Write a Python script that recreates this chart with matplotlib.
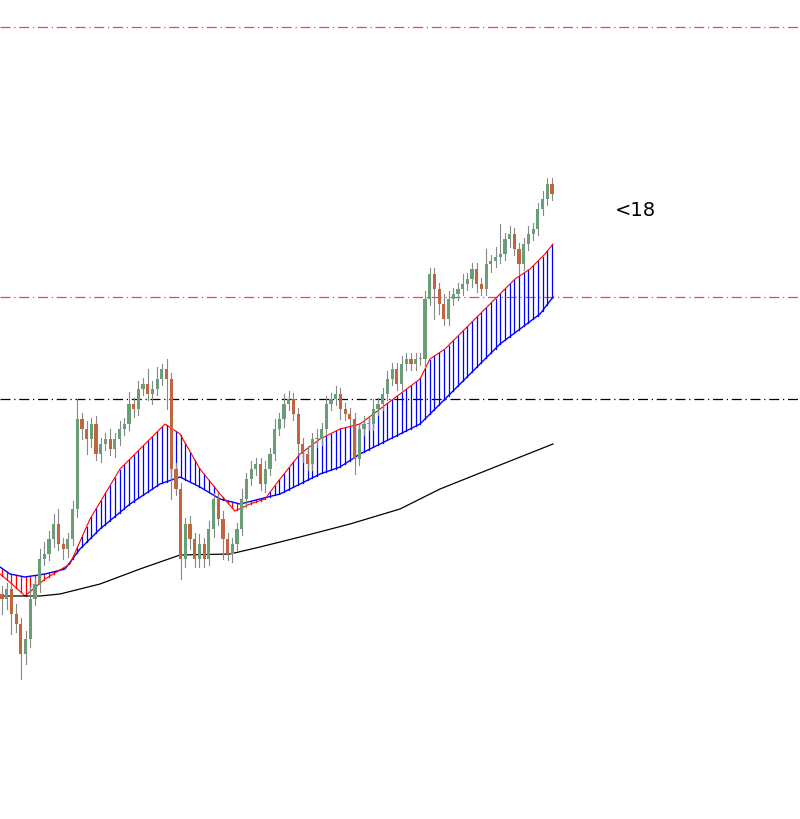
import numpy as np
import matplotlib
matplotlib.use("Agg")
import matplotlib.pyplot as plt

# closes (price units = 820 - pixel row)
close_px = [600, 590, 615, 625, 655, 640, 600, 585, 560, 555,
            540, 525, 545, 550, 540, 510, 420, 430, 440, 425,
            455, 445, 440, 450, 440, 430, 425, 405, 410, 390,
            385, 395, 390, 380, 370, 380, 470, 490, 560, 525,
            540, 560, 545, 560, 530, 500, 520, 540, 555, 545,
            530, 500, 480, 470, 465, 485, 470, 455, 430, 420,
            405, 400, 415, 445, 455, 465, 440, 440, 430, 405,
            400, 395, 410, 415, 420, 460, 430, 425, 425, 410,
            405, 395, 380, 370, 385, 365, 360, 365, 360, 360,
            300, 275, 290, 305, 320, 300, 295, 290, 285, 280,
            270, 285, 290, 265, 262, 258, 255, 240, 235, 250,
            265, 245, 235, 230, 210, 200, 185, 195]
upper_wick = [8, 6, 5, 10, 6, 8, 12, 6, 10, 12,
              8, 10, 15, 6, 6, 8, 20, 6, 8, 6,
              8, 6, 6, 10, 6, 8, 6, 12, 6, 8,
              6, 15, 8, 12, 5, 10, 6, 6, 6, 6,
              8, 6, 10, 6, 8, 6, 6, 8, 6, 6,
              6, 10, 6, 8, 6, 6, 8, 6, 10, 6,
              10, 8, 6, 6, 6, 8, 6, 10, 6, 8,
              6, 8, 6, 6, 6, 6, 6, 8, 6, 10,
              6, 6, 8, 6, 6, 8, 6, 6, 6, 6,
              8, 6, 6, 6, 10, 8, 6, 6, 10, 6,
              6, 6, 6, 15, 6, 10, 30, 6, 8, 6,
              6, 6, 8, 6, 6, 8, 6, 6]
lower_wick = [15, 10, 20, 8, 25, 10, 8, 6, 8, 6,
              6, 8, 6, 10, 8, 6, 8, 10, 15, 8,
              6, 8, 6, 6, 8, 6, 6, 6, 8, 6,
              6, 6, 10, 6, 6, 30, 30, 6, 20, 8,
              10, 8, 8, 8, 6, 8, 6, 20, 6, 8,
              6, 6, 8, 6, 6, 6, 8, 6, 6, 6,
              8, 6, 6, 10, 8, 6, 6, 8, 6, 6,
              6, 6, 10, 6, 6, 15, 6, 6, 6, 6,
              6, 6, 6, 6, 6, 6, 6, 6, 6, 6,
              8, 6, 30, 10, 6, 6, 6, 6, 6, 6,
              8, 8, 6, 6, 8, 6, 6, 6, 8, 6,
              10, 6, 6, 6, 6, 6, 6, 6]

# moving averages: (pixel column, pixel row)
fast_ma_x = [0, 12, 25, 45, 70, 90, 120, 150, 165, 180, 200, 220, 235, 250, 265,
             280, 300, 320, 340, 360, 380, 400, 420, 430, 445, 460, 480, 500,
             515, 530, 545, 553]
fast_ma_px = [575, 585, 597, 580, 565, 520, 470, 440, 425, 435, 470, 495, 512, 505,
              500, 480, 455, 440, 430, 425, 410, 395, 380, 360, 350, 335, 315,
              295, 280, 270, 255, 245]
mid_ma_x = [0, 10, 25, 45, 65, 80, 100, 130, 160, 180, 200, 220, 240, 260, 280,
            300, 320, 340, 360, 380, 400, 420, 440, 460, 480, 500, 520, 540, 553]
mid_ma_px = [568, 575, 578, 575, 570, 550, 530, 505, 485, 478, 488, 500, 505, 500,
             495, 485, 475, 468, 455, 445, 435, 425, 405, 385, 365, 345, 330,
             315, 298]
slow_ma_x = [0, 40, 60, 100, 140, 180, 230, 260, 300, 350, 400, 440, 490, 553]
slow_ma_px = [597, 597, 595, 585, 570, 556, 555, 548, 538, 525, 510, 490, 470, 445]

levels_px = [28, 298, 400]
level_colors = ["#ff4040", "#ff4040", "black"]
label_text = "<18"

H = 820
step = 4.7
x0 = 2

close = H - np.array(close_px, dtype=float)
open_ = np.r_[close[0] + 5, close[:-1]]
high = np.maximum(open_, close) + np.array(upper_wick)
low = np.minimum(open_, close) - np.array(lower_wick)
n = len(close)
xs = x0 + np.arange(n) * step

fig = plt.figure(figsize=(8, 8.2), dpi=100)
ax = fig.add_axes([0, 0, 1, 1])
ax.set_xlim(0, 800)
ax.set_ylim(0, H)
ax.axis("off")

for lv, c in zip(levels_px, level_colors):
    ax.axhline(H - lv, color=c, lw=0.9, ls=(0, (8, 3, 1, 3)))

fast = H - np.interp(xs, fast_ma_x, fast_ma_px)
mid = H - np.interp(xs, mid_ma_x, mid_ma_px)

# hatched band between the two averages
for x, f, m in zip(xs, fast, mid):
    ax.plot([x, x], [f, m], color="blue" if f >= m else "red", lw=0.9)
ax.plot(mid_ma_x, H - np.array(mid_ma_px), color="blue", lw=1.0)
ax.plot(fast_ma_x, H - np.array(fast_ma_px), color="red", lw=0.8)
ax.plot(slow_ma_x, H - np.array(slow_ma_px), color="black", lw=0.9)

for i in range(n):
    up = close[i] >= open_[i]
    ax.plot([xs[i], xs[i]], [low[i], high[i]], color="#888888", lw=0.8, zorder=3)
    bot = min(open_[i], close[i])
    hgt = max(abs(close[i] - open_[i]), 1.5)
    ax.bar(xs[i], hgt, bottom=bot, width=3.2, zorder=4,
           color="#6a9e78" if up else "#c2653f", edgecolor="none")

ax.text(615, H - 210, label_text, fontsize=14, va="center")

fig.savefig("out.png", dpi=100)
